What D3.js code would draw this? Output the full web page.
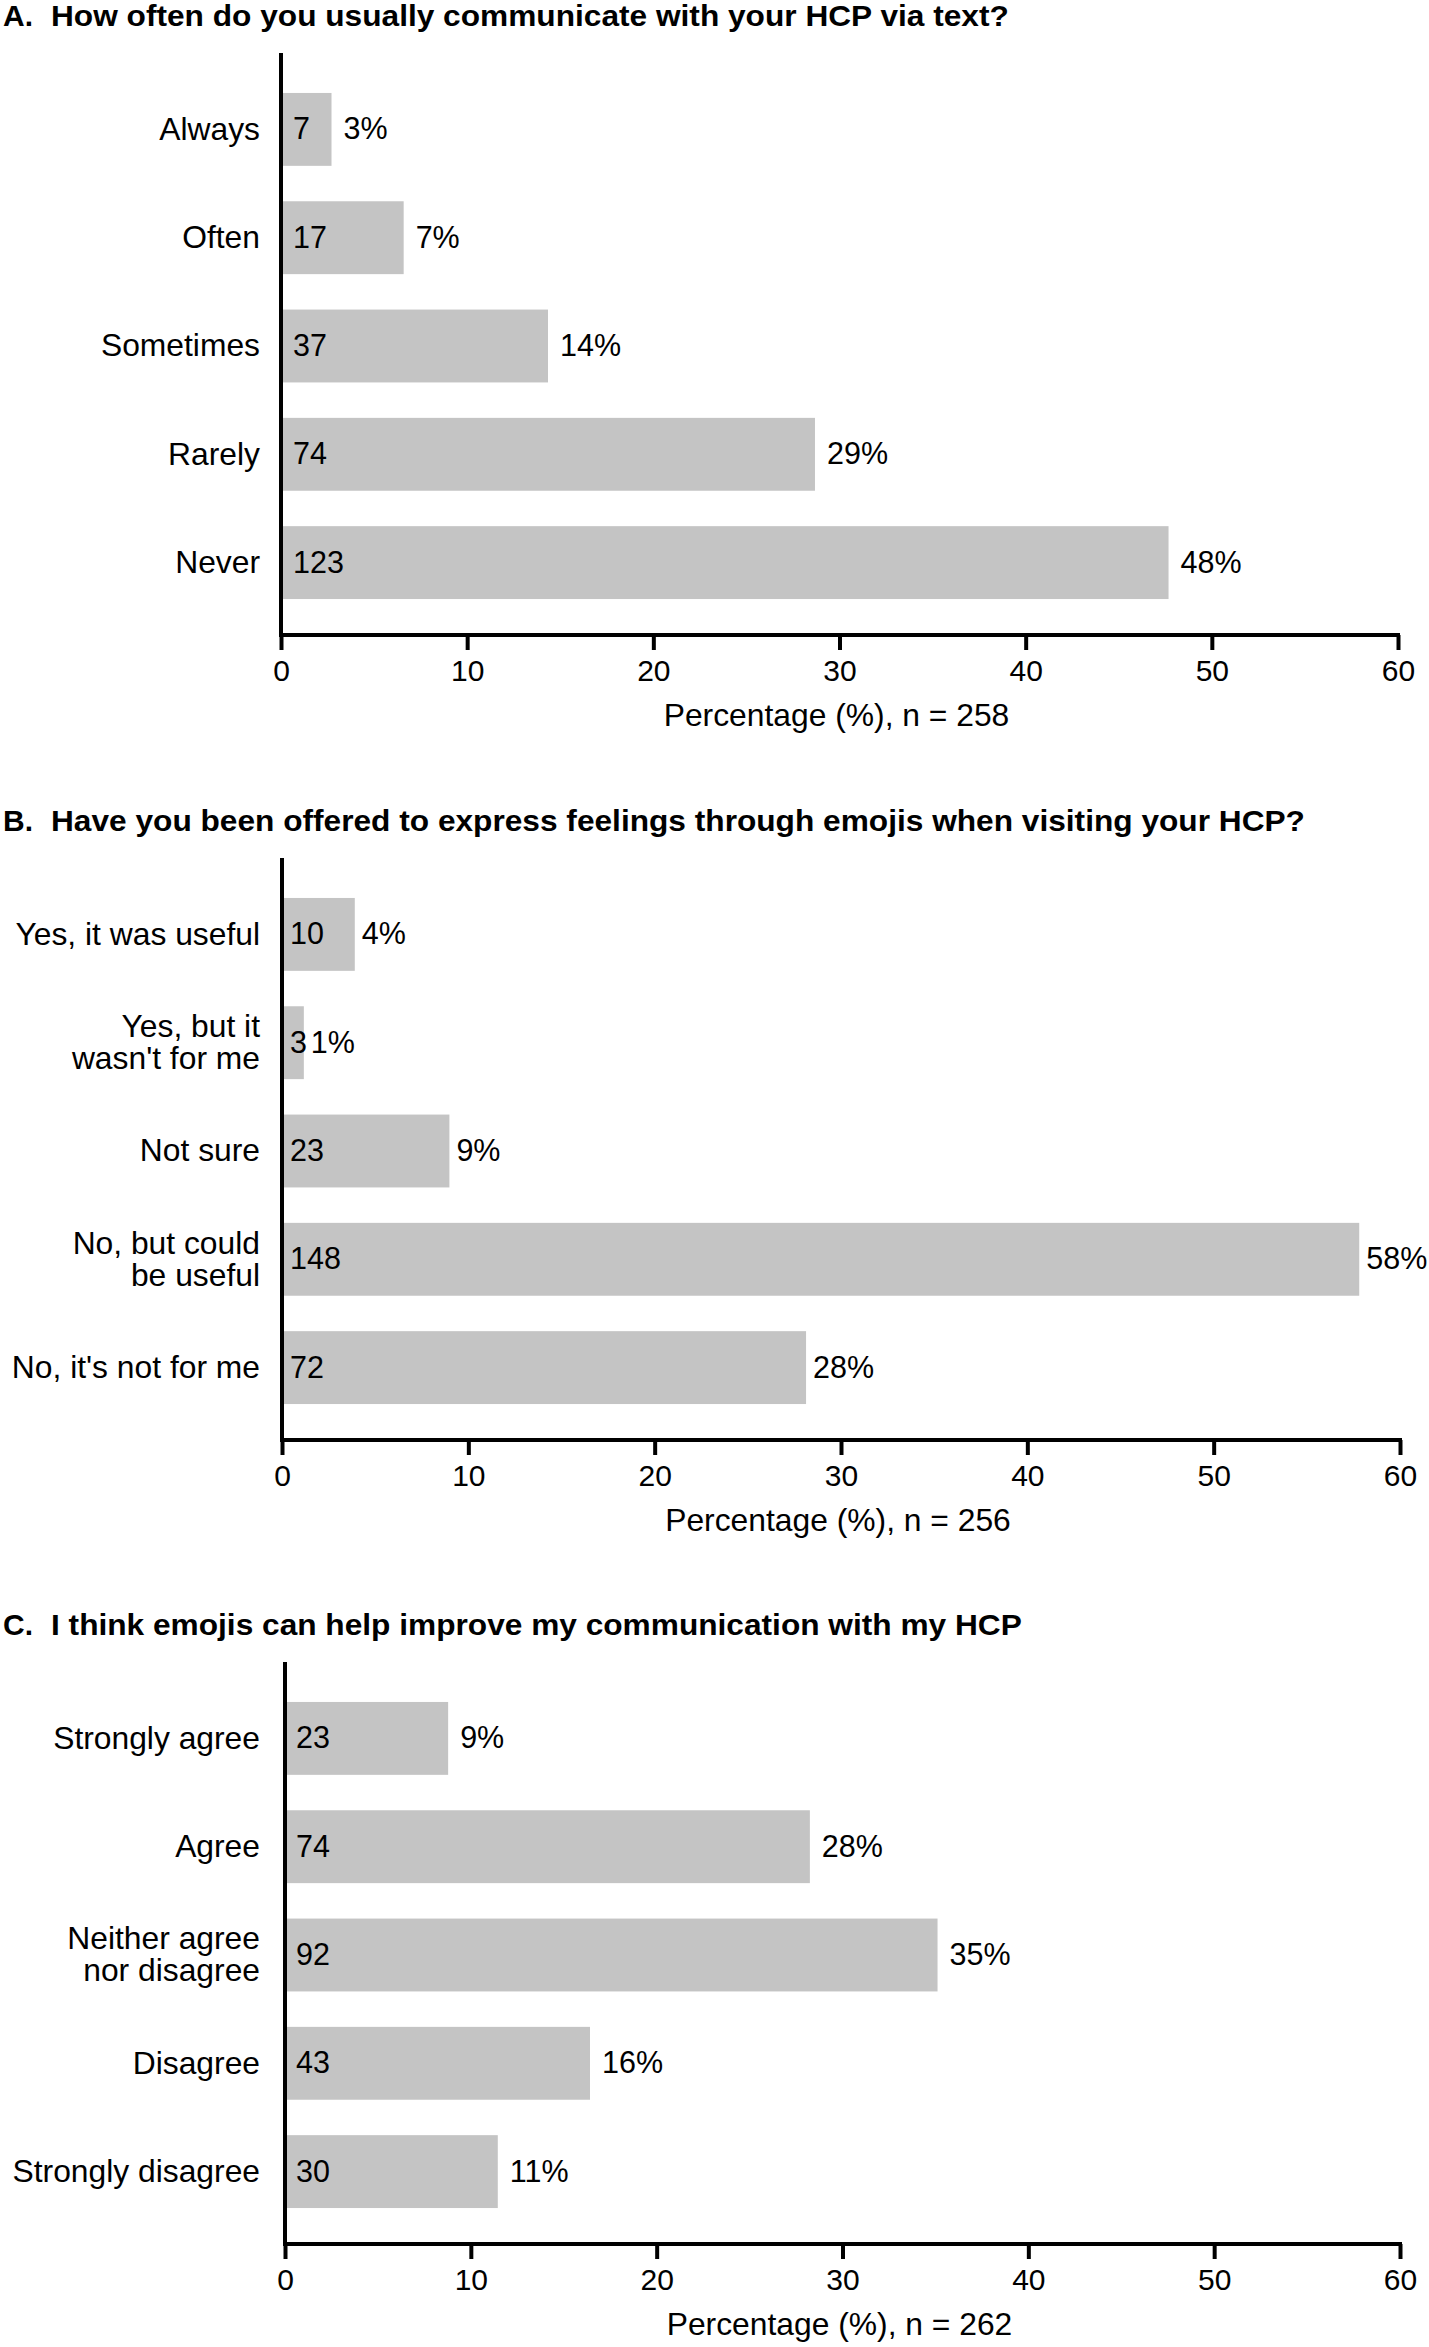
<!DOCTYPE html>
<html>
<head>
<meta charset="utf-8">
<script src="https://cdn.jsdelivr.net/npm/d3@7"></script>
<style>
  html, body { margin: 0; padding: 0; background: #fff; }
  svg { display: block; }
  text { font-family: "Liberation Sans", Arial, Helvetica, sans-serif; fill: #000; }
</style>
</head>
<body>
<svg id="chart" width="1429" height="2347"></svg>
<script>
// ---------- data ----------
const xTicks = [0, 10, 20, 30, 40, 50, 60];

const letterA = "A.";
const titleA = "How often do you usually communicate with your HCP via text?";
const catsA = ["Always", "Often", "Sometimes", "Rarely", "Never"];
const countsA = [7, 17, 37, 74, 123];
const pctA = ["3%", "7%", "14%", "29%", "48%"];
const nA = 258;

const letterB = "B.";
const titleB = "Have you been offered to express feelings through emojis when visiting your HCP?";
const catsB = ["Yes, it was useful", "Yes, but it\nwasn't for me", "Not sure", "No, but could\nbe useful", "No, it's not for me"];
const countsB = [10, 3, 23, 148, 72];
const pctB = ["4%", "1%", "9%", "58%", "28%"];
const nB = 256;

const letterC = "C.";
const titleC = "I think emojis can help improve my communication with my HCP";
const catsC = ["Strongly agree", "Agree", "Neither agree\nnor disagree", "Disagree", "Strongly disagree"];
const countsC = [23, 74, 92, 43, 30];
const pctC = ["9%", "28%", "35%", "16%", "11%"];
const nC = 262;

// ---------- layout ----------
const svg = d3.select("#chart");
const BAR = "#c4c4c4";
const TITLE_STRETCH = 1.055;

const panels = [
  { letter: letterA, title: titleA, cats: catsA, counts: countsA, pct: pctA, n: nA,
    oy: 0, x0: 281, x1: 1398, inOff: 12, outOff: 12 },
  { letter: letterB, title: titleB, cats: catsB, counts: countsB, pct: pctB, n: nB,
    oy: 805, x0: 282, x1: 1400, inOff: 8, outOff: 7 },
  { letter: letterC, title: titleC, cats: catsC, counts: countsC, pct: pctC, n: nC,
    oy: 1609, x0: 285, x1: 1400, inOff: 11, outOff: 12 }
];

panels.forEach(p => {
  const g = svg.append("g").attr("transform", `translate(0,${p.oy})`);

  // title
  g.append("text").attr("x", 3).attr("y", 26)
    .style("font-weight", "bold").style("font-size", "30px")
    .text(p.letter);
  const tq = g.append("text").attr("x", 51).attr("y", 26)
    .style("font-weight", "bold").style("font-size", "30px")
    .text(p.title);
  const natural = tq.node().getComputedTextLength();
  tq.attr("textLength", natural * TITLE_STRETCH).attr("lengthAdjust", "spacingAndGlyphs");

  const x = d3.scaleLinear().domain([0, 60]).range([p.x0, p.x1]);
  const y = d3.scaleBand().domain(p.cats).range([75.25, 616.75])
    .paddingInner(0.327).paddingOuter(0.1635);
  const axisY = 635;

  const data = p.cats.map((c, i) => ({ cat: c, count: p.counts[i], pct: p.pct[i], v: p.counts[i] / p.n * 100 }));

  // bars
  g.selectAll("rect.bar").data(data).enter().append("rect")
    .attr("class", "bar")
    .attr("x", x(0))
    .attr("y", d => y(d.cat))
    .attr("width", d => x(d.v) - x(0))
    .attr("height", y.bandwidth())
    .attr("fill", BAR);

  // count labels inside bars
  g.selectAll("text.cnt").data(data).enter().append("text")
    .attr("class", "cnt")
    .attr("x", x(0) + p.inOff)
    .attr("y", d => y(d.cat) + y.bandwidth() / 2)
    .attr("dy", "0.33em")
    .style("font-size", "30.5px")
    .text(d => d.count);

  // percentage labels
  g.selectAll("text.pct").data(data).enter().append("text")
    .attr("class", "pct")
    .attr("x", d => x(d.v) + p.outOff)
    .attr("y", d => y(d.cat) + y.bandwidth() / 2)
    .attr("dy", "0.33em")
    .style("font-size", "30.5px")
    .text(d => d.pct);

  // category labels
  data.forEach(d => {
    const lines = d.cat.split("\n");
    const cy = y(d.cat) + y.bandwidth() / 2;
    const txt = g.append("text")
      .attr("text-anchor", "end")
      .style("font-size", "31.8px");
    lines.forEach((ln, j) => {
      txt.append("tspan")
        .attr("x", 260)
        .attr("y", cy + (j - (lines.length - 1) / 2) * 32)
        .attr("dy", "0.33em")
        .text(ln);
    });
  });

  // x axis
  const xAxis = d3.axisBottom(x).tickValues(xTicks).tickSize(15).tickSizeOuter(0).tickPadding(10);
  const ax = g.append("g").attr("transform", `translate(0,${axisY})`).call(xAxis);
  ax.select(".domain").attr("stroke", "#000").attr("stroke-width", 4)
    .attr("d", `M${x(0) - 2},0H${x(60) + 2}`);
  ax.selectAll(".tick line").attr("stroke", "#000").attr("stroke-width", 4).attr("y1", 0);
  ax.selectAll(".tick text").style("font-size", "30px")
    .style("font-family", '"Liberation Sans", Arial, sans-serif').attr("fill", "#000");

  // y axis line
  g.append("line")
    .attr("x1", x(0)).attr("x2", x(0))
    .attr("y1", 53).attr("y2", axisY + 2)
    .attr("stroke", "#000").attr("stroke-width", 4);

  // axis title
  g.append("text")
    .attr("x", (p.x0 + p.x1) / 2 - 3)
    .attr("y", 726)
    .attr("text-anchor", "middle")
    .style("font-size", "31.8px")
    .text(`Percentage (%), n = ${p.n}`);
});
</script>
</body>
</html>
